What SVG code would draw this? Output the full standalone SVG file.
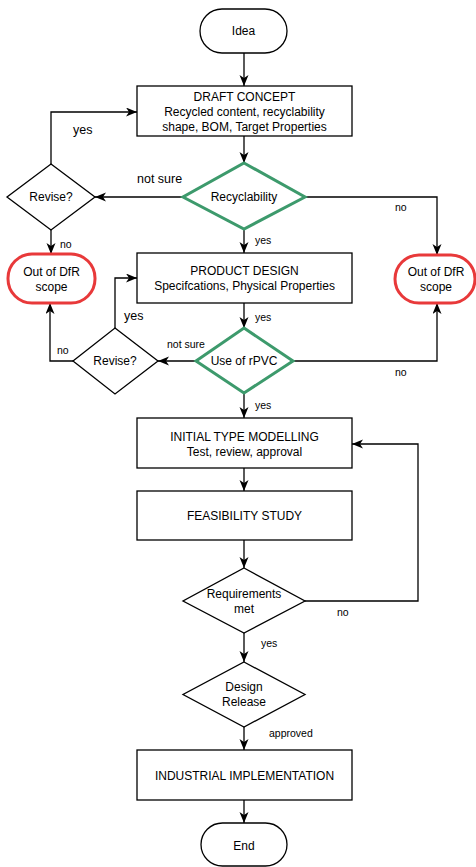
<svg xmlns="http://www.w3.org/2000/svg" width="476" height="867" viewBox="0 0 476 867">
<style>
text{font-family:"Liberation Sans",Arial,sans-serif;fill:#000;text-anchor:middle}
.n{font-size:12px}
.l{font-size:10.5px;text-anchor:start}
.lb{font-size:12.5px;text-anchor:start}
.box{fill:#fff;stroke:#000;stroke-width:1.3}
.dg{fill:#fff;stroke:#3d9a6c;stroke-width:3}
.dr{fill:#fff;stroke:#e8393a;stroke-width:3}
.c{fill:none;stroke:#000;stroke-width:1.3;marker-end:url(#a)}
</style>
<defs>
<marker id="a" markerUnits="userSpaceOnUse" markerWidth="11" markerHeight="10" refX="11" refY="4.5" orient="auto">
<path d="M0,0 L11,4.5 L0,9 L3,4.5 z" fill="#000"/>
</marker>
</defs>
<rect width="476" height="867" fill="#fff"/>
<g id="connectors">
<path class="c" d="M244,53 V86"/>
<path class="c" d="M244,136 V163"/>
<path class="c" d="M183,197 H95"/>
<path class="c" d="M51,164 V112 H137"/>
<path class="c" d="M51,230 V254"/>
<path class="c" d="M305,197 H437 V255"/>
<path class="c" d="M244,229 V253"/>
<path class="c" d="M244,303 V328"/>
<path class="c" d="M196,361 H158"/>
<path class="c" d="M115,328 V278 H137"/>
<path class="c" d="M73,361 H50 V303"/>
<path class="c" d="M293,361 H437 V303"/>
<path class="c" d="M244,393 V418"/>
<path class="c" d="M244,468 V491"/>
<path class="c" d="M244,540 V568"/>
<path class="c" d="M305,601 H418 V444 H352"/>
<path class="c" d="M244,633 V662"/>
<path class="c" d="M244,727 V750"/>
<path class="c" d="M244,800 V823"/>
<text class="lb" x="73" y="134">yes</text>
<text class="lb" x="137" y="183">not sure</text>
<text class="l" x="395" y="211">no</text>
<text class="l" x="60" y="248">no</text>
<text class="l" x="255" y="244">yes</text>
<text class="l" x="255" y="321">yes</text>
<text class="lb" x="124" y="320">yes</text>
<text class="l" x="167" y="348">not sure</text>
<text class="l" x="57" y="354">no</text>
<text class="l" x="395" y="376">no</text>
<text class="l" x="255" y="409">yes</text>
<text class="l" x="337" y="616">no</text>
<text class="l" x="261" y="647">yes</text>
<text class="l" x="269" y="737">approved</text>
</g>
<g id="idea"><rect class="box" x="200" y="9" width="87" height="44" rx="22"/><text class="n" x="243.5" y="35">Idea</text></g>
<g id="draft"><rect class="box" x="137" y="86" width="215" height="50"/><text class="n" x="244.5" y="101">DRAFT CONCEPT</text><text class="n" x="244.5" y="116">Recycled content, recyclability</text><text class="n" x="244.5" y="131">shape, BOM, Target Properties</text></g>
<g id="recyclability"><polygon class="dg" points="244,163 305,197 244,229 183,197"/><text class="n" x="244" y="201">Recyclability</text></g>
<g id="revise1"><polygon class="box" points="51,164 95,197 51,230 7,197"/><text class="n" x="51" y="201">Revise?</text></g>
<g id="outL"><rect class="dr" x="8" y="254" width="87" height="49" rx="24"/><text class="n" x="51.5" y="276">Out of DfR</text><text class="n" x="51.5" y="291">scope</text></g>
<g id="outR"><rect class="dr" x="395" y="255" width="80" height="48" rx="24"/><text class="n" x="436" y="276">Out of DfR</text><text class="n" x="436" y="291">scope</text></g>
<g id="product"><rect class="box" x="137" y="253" width="215" height="50"/><text class="n" x="244.5" y="275">PRODUCT DESIGN</text><text class="n" x="244.5" y="290">Specifcations, Physical Properties</text></g>
<g id="rpvc"><polygon class="dg" points="244,328 293,361 244,393 196,361"/><text class="n" x="244" y="365">Use of rPVC</text></g>
<g id="revise2"><polygon class="box" points="115,328 158,361 115,394 73,361"/><text class="n" x="115" y="365">Revise?</text></g>
<g id="initial"><rect class="box" x="137" y="418" width="215" height="50"/><text class="n" x="244.5" y="441">INITIAL TYPE MODELLING</text><text class="n" x="244.5" y="456">Test, review, approval</text></g>
<g id="feasibility"><rect class="box" x="137" y="491" width="215" height="49"/><text class="n" x="244.5" y="520">FEASIBILITY STUDY</text></g>
<g id="requirements"><polygon class="box" points="244,568 305,601 244,633 183,601"/><text class="n" x="244" y="598">Requirements</text><text class="n" x="244" y="613">met</text></g>
<g id="release"><polygon class="box" points="244,662 305,694.5 244,727 183,694.5"/><text class="n" x="244" y="691">Design</text><text class="n" x="244" y="706">Release</text></g>
<g id="industrial"><rect class="box" x="137" y="750" width="215" height="50"/><text class="n" x="244.5" y="780">INDUSTRIAL IMPLEMENTATION</text></g>
<g id="end"><rect class="box" x="201" y="823" width="86" height="43" rx="21.5"/><text class="n" x="244" y="850">End</text></g>
</svg>
